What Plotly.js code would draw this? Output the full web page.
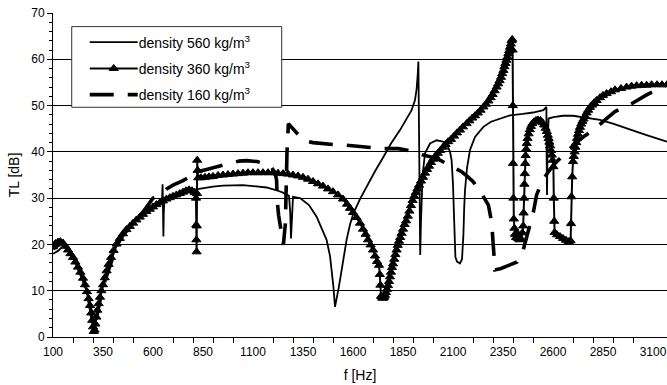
<!DOCTYPE html>
<html>
<head>
<meta charset="utf-8">
<script src="https://cdn.plot.ly/plotly-3.0.1.min.js"></script>
<style>html,body{margin:0;padding:0;background:#fff;}#chart{width:667px;height:385px;}</style>
</head>
<body>
<div id="chart"></div>
<script>
// Series names
const names = ["density 560 kg/m<sup>3</sup>", "density 360 kg/m<sup>3</sup>", "density 160 kg/m<sup>3</sup>"];

// density 560 kg/m3 (thin solid line)
const f560 = [100,125,150,175,200,225,250,270,285,295,302,306,312,320,335,350,370,395,418,450,500,550,600,630,645,648,650,652,654,658,680,700,750,800,850,900,950,1000,1050,1100,1168,1218,1250,1280,1286,1290,1294,1300,1335,1380,1418,1445,1468,1485,1495,1502,1510,1518,1527,1535,1550,1568,1585,1602,1635,1668,1710,1752,1790,1835,1870,1893,1910,1918,1924,1927,1930,1933,1936,1940,1948,1960,1985,2018,2050,2068,2085,2093,2100,2106,2112,2120,2135,2145,2152,2156,2160,2170,2185,2210,2252,2290,2335,2385,2450,2500,2552,2565,2567,2568,2570,2573,2578,2602,2650,2700,2735,2780,2835,2900,2968,3020,3068,3120,3170];
const tl560 = [18,18.6,19.6,18.8,17,15,12.5,9.5,6.5,4,2.2,1.6,3,5.2,8.4,11,14,17,19.8,22.3,24.4,26.4,28,29,29.4,33,25,21.7,27,30,30.3,30.6,31.3,31.8,32.2,32.5,32.7,32.8,32.8,32.6,32.3,31.7,31.2,30.5,27,21.3,26,30.3,30,28.5,26,23.5,21,17.5,14,10.9,6.5,8,10.3,12.3,16.5,21,24.3,26.7,29.8,32.5,35.8,38.9,41.8,44.7,47.5,49,51.2,53.5,57,59.5,45,30,17.7,25,35,39.7,41.8,42.5,42.2,41.8,40,38.2,33,25,17.3,16.3,15.9,16.8,22,28,31.7,36.5,40.4,43.2,45.4,46.5,47.2,47.9,48.2,48.5,49,49.5,49.7,40,30.7,42,47.2,47.5,47.8,47.8,47.6,47.3,46.9,46.1,45,44.3,43.6,42.9,42.2];

// density 360 kg/m3 (line with triangle markers) - rows of 10 aligned
const f360 = [
  100,112,125,137,150,162,175,187,200,212,
  225,237,250,260,270,278,285,291,296,300,
  304,308,312,317,322,328,335,342,350,359,
  368,378,390,403,418,434,450,467,484,500,
  517,534,550,567,584,600,617,634,650,667,
  684,700,717,734,750,765,780,795,808,815,
  816,817,818,819,820,821,823,826,840,860,
  880,900,925,950,975,1000,1025,1050,1075,1100,
  1125,1150,1175,1200,1225,1250,1275,1300,1325,1350,
  1375,1400,1425,1450,1475,1500,1525,1550,1570,1585,
  1600,1618,1635,1650,1663,1675,1688,1700,1710,1720,
  1730,1734,1737,1740,1746,1752,1756,1760,1765,1770,
  1775,1780,1785,1790,1795,1800,1806,1812,1818,1824,
  1830,1836,1843,1850,1858,1866,1874,1882,1890,1898,
  1906,1914,1922,1930,1940,1950,1960,1970,1980,1990,
  2000,2012,2024,2036,2050,2063,2076,2090,2105,2120,
  2135,2150,2168,2182,2196,2210,2224,2238,2252,2265,
  2277,2288,2298,2308,2318,2326,2333,2340,2346,2352,
  2357,2362,2367,2372,2377,2381,2385,2389,2393,2396,
  2398,2399,2400,2402,2404,2407,2410,2415,2420,2425,
  2432,2440,2447,2451,2453,2455,2457,2459,2461,2463,
  2466,2469,2473,2478,2484,2490,2497,2505,2515,2525,
  2537,2548,2556,2563,2569,2574,2578,2582,2586,2590,
  2594,2598,2602,2604,2606,2608,2620,2635,2650,2665,
  2678,2688,2690,2692,2696,2700,2704,2708,2712,2716,
  2720,2725,2730,2735,2741,2747,2753,2760,2768,2776,
  2785,2795,2805,2818,2835,2850,2868,2890,2910,2940,
  2968,2993,3018,3043,3068,3093,3120,3145,3170];
const tl360 = [
  19.5,20.2,20.5,20.6,20.3,19.6,18.8,18,17.2,16.2,
  15.1,14,12.7,11.3,9.8,8.3,6.8,5.2,3.6,2.2,
  1.2,1.5,2.8,4.3,5.8,7.2,8.6,10,11.3,12.8,
  14.3,15.7,17.2,18.7,20.1,21.3,22.3,23.2,23.9,24.6,
  25.3,25.9,26.5,27.1,27.6,28.1,28.6,29,29.4,29.8,
  30.1,30.4,30.7,31,31.3,31.6,31.8,31.6,31.2,30,
  24.2,21,18.4,24,31,38.2,36,34.4,34.4,34.5,
  34.6,34.7,34.9,35,35.1,35.2,35.3,35.4,35.5,35.5,
  35.5,35.5,35.5,35.5,35.4,35.3,35.2,35,34.8,34.5,
  34.1,33.6,33.1,32.6,32,31.4,30.7,29.8,28.7,27.8,
  26.9,25.8,24.6,23.3,22.2,21,19.9,18.8,17.5,16.3,
  15.5,13.5,11.2,8.8,8.4,8.4,8.6,9,9.6,10.3,
  11.1,12,13,14,15,15.8,16.8,17.8,18.8,19.8,
  20.7,21.5,22.4,23.3,24.3,25.1,26.1,27.2,28.4,29.5,
  30.4,31.2,32,32.8,33.7,34.5,35.4,36.2,36.9,37.7,
  38.4,39.1,39.7,40.3,41,41.6,42.2,42.7,43.4,44.1,
  44.7,45.4,46.1,46.7,47.3,47.8,48.4,49,49.7,50.3,
  51,51.7,52.4,53.2,54,54.7,55.4,56.1,56.9,57.6,
  58.4,59.1,59.8,60.5,61.2,61.9,62.6,63.3,64,64.3,
  62,50,37.5,30,25.5,23.5,22.2,21.5,22.5,21.3,
  21,21.2,22.5,24,26.8,30,33,35.3,37.5,39.2,
  40.6,41.8,42.9,43.9,44.8,45.5,46.1,46.5,46.8,46.9,
  46.8,46.3,45.8,45.1,44.4,43.6,42.9,42.1,41.3,40.3,
  39.3,38.2,36.8,30,25,22.6,22.1,21.7,21.3,20.9,
  20.6,20.8,24.5,30.3,34.6,37.9,39,40,41,42,
  42.9,43.8,44.6,45.3,46,46.6,47.1,47.7,48.4,49,
  49.6,50.1,50.6,51.1,51.7,52.2,52.6,53,53.4,53.7,
  54,54.2,54.3,54.4,54.4,54.5,54.5,54.5,54.5];

// density 160 kg/m3 (thick dashed line)
const f160 = [100,125,150,175,200,225,250,270,285,295,302,308,315,325,340,360,390,418,450,500,550,600,640,668,700,750,800,830,868,920,985,1030,1068,1120,1185,1210,1218,1221,1228,1240,1252,1262,1266,1270,1277,1300,1330,1352,1400,1435,1500,1552,1627,1700,1752,1827,1900,1952,2000,2035,2090,2143,2175,2202,2240,2277,2293,2303,2310,2340,2385,2420,2443,2460,2477,2502,2518,2545,2577,2610,2643,2710,2760,2810,2860,2910,2950,2993,3068,3120,3170];
const tl160 = [19,19.8,20.3,19.3,17.4,15.2,12.6,9.6,6.8,4,2.2,1.8,3.5,6,9,12.2,16,19.6,22,24.5,27,30,31,32,32.8,33.8,35,35.8,36.2,36.8,37.5,38,38.1,37.9,37.1,35.5,33.9,29.5,26.3,23,19.9,24.6,33,40,46.1,45,43.5,42.5,42,41.8,41.6,41.5,41.2,40.9,40.7,40.7,40.1,39.3,38.8,38.2,37,35.7,34.6,33.5,31.2,28.5,24.9,19.9,14.5,14.8,15.6,16.2,17.5,20.2,22.6,27,30.7,33.6,35.7,37.5,38.9,41.8,43.5,45,46.9,48.7,49.6,50.4,52.3,53.5,54.5];

// Axis ticks
const xTick0 = 100, xLabelStep = 250, xMinorStep = 100;
const yTickStep = 10, yMinorStep = 2;

const FONT = "Liberation Sans, Arial, sans-serif";

const traces = [
  {x: f560, y: tl560, name: names[0], type: "scatter", mode: "lines",
   line: {color: "#000", width: 1.8}, legendgroup: "a"},
  {x: f360, y: tl360, name: names[1], type: "scatter", mode: "lines+markers",
   line: {color: "#000", width: 2},
   marker: {symbol: "triangle-up", size: 8, color: "#000", line: {color: "#000", width: 1}}, legendgroup: "b"},
  {x: f160, y: tl160, name: names[2], type: "scatter", mode: "lines",
   line: {color: "#000", width: 3.6, dash: "24px,14px"}, legendgroup: "c"}
];

const layout = {
  width: 667, height: 385,
  margin: {l: 53, r: 0, t: 13, b: 48},
  paper_bgcolor: "#fff", plot_bgcolor: "#fff",
  font: {family: FONT, size: 12, color: "#000"},
  showlegend: true,
  legend: {x: 0.0305, y: 0.958, xanchor: "left", yanchor: "top",
           bgcolor: "rgba(0,0,0,0)", borderwidth: 0,
           itemwidth: 57,
           font: {family: FONT, size: 14, color: "#000"}, tracegroupgap: 5},
  // legend frame (white box with a dark border behind the legend entries)
  shapes: [{type: "rect", xref: "paper", yref: "paper",
            x0: 0.0305, x1: 0.3725, y0: 0.709, y1: 0.958,
            line: {color: "#333", width: 1}, fillcolor: "#fff", layer: "above"}],
  xaxis: {range: [100, 3170], tickmode: "linear", tick0: xTick0, dtick: xLabelStep,
          ticks: "", showline: true, linecolor: "#000", linewidth: 1,
          showgrid: false, zeroline: false,
          tickfont: {family: FONT, size: 12, color: "#000"},
          ticklabelstandoff: 4,
          minor: {ticks: "outside", tick0: xTick0, dtick: xMinorStep, ticklen: 5, tickcolor: "#000", tickwidth: 1, showgrid: false},
          title: {text: "f [Hz]", font: {family: FONT, size: 14, color: "#000"}, standoff: 11}},
  yaxis: {range: [0, 70], tickmode: "linear", tick0: 0, dtick: yTickStep,
          ticks: "outside", ticklen: 5, tickcolor: "#000", tickwidth: 1,
          showline: true, linecolor: "#000", linewidth: 1,
          showgrid: true, gridcolor: "#000", gridwidth: 1, zeroline: false,
          tickfont: {family: FONT, size: 12, color: "#000"},
          minor: {ticks: "outside", dtick: yMinorStep, ticklen: 3, tickcolor: "#000", tickwidth: 1, showgrid: false},
          title: {text: "TL [dB]", font: {family: FONT, size: 14, color: "#000"}, standoff: 8}}
};

// legend samples of the reference: 48px lines starting 18px inside the frame
function styleLegend(gd) {
  try {
    const leg = gd.querySelector("g.legend");
    if (!leg) return;
    const frameLeft = gd.getBoundingClientRect().left + 53 + 0.0305 * 614;
    leg.querySelectorAll("g.traces").forEach(function (tr) {
      const ln = tr.querySelector("path.js-line");
      const pt = tr.querySelector("path.scatterpts");
      const m = tr.getScreenCTM();
      const originX = m ? m.e : 0;
      const start = frameLeft + 18 - originX;
      if (ln) ln.setAttribute("d", "M" + start + ",0h48");
      if (pt) pt.setAttribute("transform", "translate(" + (start + 24) + ",0)");
    });
  } catch (e) {}
}

const gdEl = document.getElementById("chart");
Plotly.newPlot(gdEl, traces, layout, {displayModeBar: false, staticPlot: true}).then(function (gd) {
  styleLegend(gd);
});
</script>
</body>
</html>
